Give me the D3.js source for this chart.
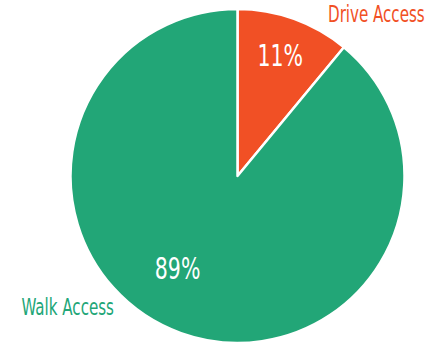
<!DOCTYPE html>
<html>
<head>
<meta charset="utf-8">
<script src="https://d3js.org/d3.v7.min.js"></script>
<style>
  body { margin: 0; background: #fff; }
  text { font-family: "DejaVu Sans Condensed", "Liberation Sans Narrow", sans-serif; }
</style>
</head>
<body>
<div id="chart"></div>
<script>
// data
const categories = ["Drive Access", "Walk Access"];
const values = [11, 89];
const colors = ["#F15025", "#22A677"];

const width = 439, height = 343;
const cx = 237.5, cy = 176, radius = 167;

const svg = d3.select("#chart").append("svg")
    .attr("width", width)
    .attr("height", height);

const g = svg.append("g")
    .attr("transform", "translate(" + cx + "," + cy + ")");

const pie = d3.pie().sort(null).value(d => d);
const arcs = pie(values);

const arc = d3.arc().innerRadius(0).outerRadius(radius);

g.selectAll("path.slice")
    .data(arcs)
  .enter().append("path")
    .attr("class", "slice")
    .attr("d", arc)
    .attr("fill", (d, i) => colors[i])
    .attr("stroke", "#fff")
    .attr("stroke-width", 2.5)
    .attr("stroke-linejoin", "round");

// percent labels - polar spot for each slice (angle in deg, radius)
const pctSpots = [[19.5, 128], [213, 110]];
g.selectAll("text.pct")
    .data(arcs)
  .enter().append("text")
    .attr("class", "pct")
    .attr("transform", (d, i) => {
        const a = pctSpots[i][0] * Math.PI / 180, r = pctSpots[i][1];
        return "translate(" + (r * Math.sin(a)) + "," + (-r * Math.cos(a)) + ") scale(0.76,1)";
    })
    .attr("text-anchor", "middle")
    .attr("dy", "0.36em")
    .attr("fill", "#fff")
    .style("font-size", "30px")
    .text(d => d.value + "%");

// category labels
const catSpots = [[90.5, -154, "start"], [-123.5, 139, "end"]];
g.selectAll("text.cat")
    .data(arcs)
  .enter().append("text")
    .attr("class", "cat")
    .attr("transform", (d, i) => "translate(" + catSpots[i][0] + "," + catSpots[i][1] + ") scale(0.73,1)")
    .attr("text-anchor", (d, i) => catSpots[i][2])
    .attr("fill", (d, i) => colors[i])
    .style("font-size", "23px")
    .text((d, i) => categories[i]);
</script>
</body>
</html>
